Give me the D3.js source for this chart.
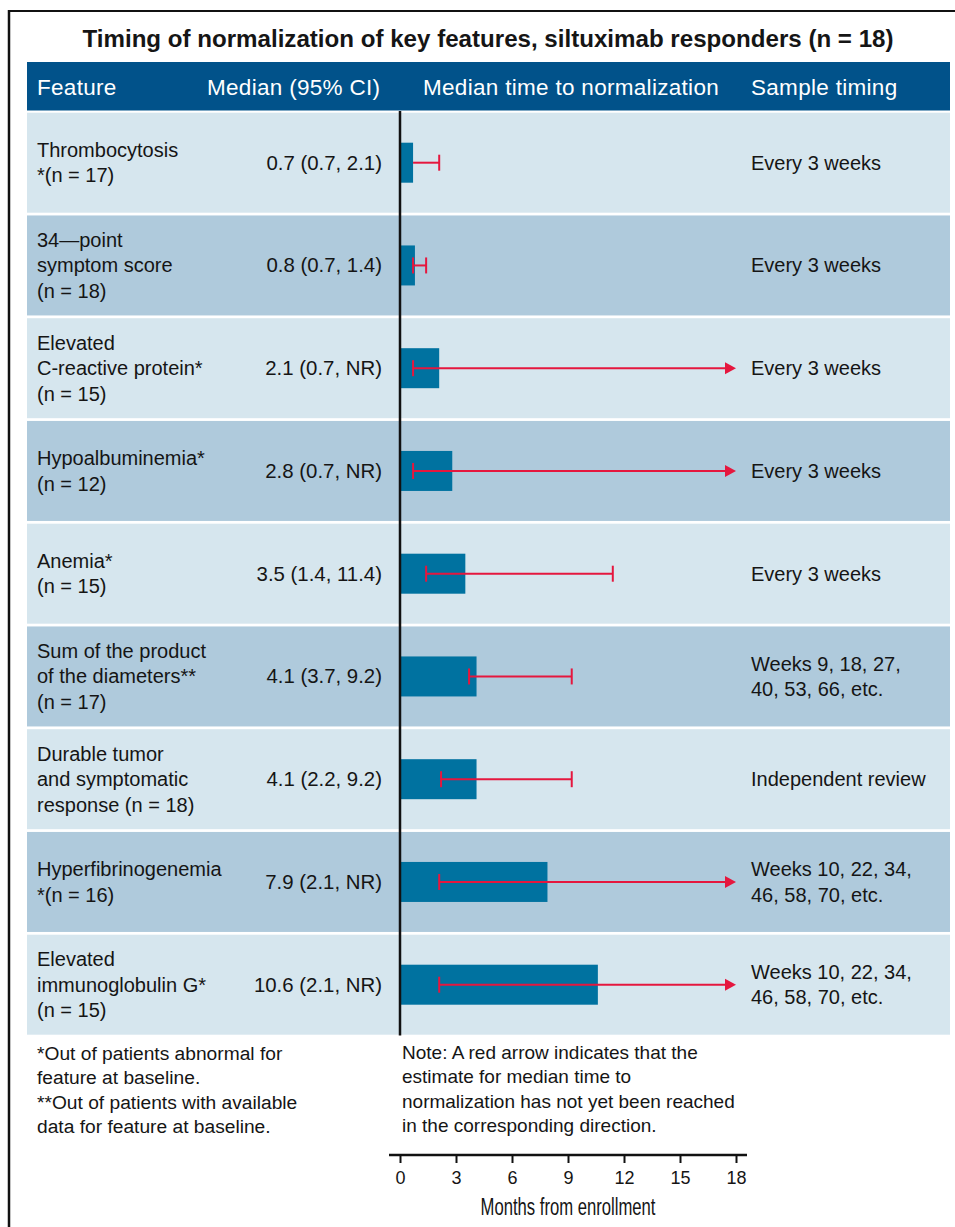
<!DOCTYPE html>
<html>
<head>
<meta charset="utf-8">
<script src="https://cdn.jsdelivr.net/npm/d3@7"></script>
<style>
  html, body { margin: 0; padding: 0; background: #fff; }
  svg { display: block; }
  text { font-family: "Liberation Sans", Arial, Helvetica, sans-serif; fill: #151515; }
</style>
</head>
<body>
<svg id="chart" width="955" height="1227"></svg>
<script>
// Feature names, one entry per row, split into display lines
const featureLines = [
  ["Thrombocytosis", "*(n = 17)"],
  ["34\u2014point", "symptom score", "(n = 18)"],
  ["Elevated", "C-reactive protein*", "(n = 15)"],
  ["Hypoalbuminemia*", "(n = 12)"],
  ["Anemia*", "(n = 15)"],
  ["Sum of the product", "of the diameters**", "(n = 17)"],
  ["Durable tumor", "and symptomatic", "response (n = 18)"],
  ["Hyperfibrinogenemia", "*(n = 16)"],
  ["Elevated", "immunoglobulin G*", "(n = 15)"]
];

// Median months to normalization and 95% CI (null upper = not reached)
const medians = [0.7, 0.8, 2.1, 2.8, 3.5, 4.1, 4.1, 7.9, 10.6];
const lowerCI = [0.7, 0.7, 0.7, 0.7, 1.4, 3.7, 2.2, 2.1, 2.1];
const upperCI = [2.1, 1.4, null, null, 11.4, 9.2, 9.2, null, null];

const sampleTiming = [
  ["Every 3 weeks"],
  ["Every 3 weeks"],
  ["Every 3 weeks"],
  ["Every 3 weeks"],
  ["Every 3 weeks"],
  ["Weeks 9, 18, 27,", "40, 53, 66, etc."],
  ["Independent review"],
  ["Weeks 10, 22, 34,", "46, 58, 70, etc."],
  ["Weeks 10, 22, 34,", "46, 58, 70, etc."]
];

const headers = ["Feature", "Median (95% CI)", "Median time to normalization", "Sample timing"];
const xTicks = [0, 3, 6, 9, 12, 15, 18];

const titleText = "Timing of normalization of key features, siltuximab responders (n = 18)";
const axisTitle = "Months from enrollment";
const footLeft = [
  "*Out of patients abnormal for",
  "feature at baseline.",
  "**Out of patients with available",
  "data for feature at baseline."
];
const footNote = [
  "Note: A red arrow indicates that the",
  "estimate for median time to",
  "normalization has not yet been reached",
  "in the corresponding direction."
];

const colors = {
  header: "#01528a",
  rowLight: "#d6e6ee",
  rowDark: "#afcadc",
  bar: "#0072a0",
  ci: "#e5173e"
};

const svg = d3.select("#chart");
const W = 955;

const tableLeft = 27, tableRight = 950;
const x = d3.scaleLinear().domain([0, 18]).range([400, 736]);
const y = d3.scaleBand().domain(d3.range(medians.length))
  .range([112.7, 1034.7]).paddingInner(0.0268);

const lineGap = 25.5;
const fmt = v => v == null ? "NR" : d3.format(".1f")(v);

// Outer frame (top and left rules)
svg.append("line").attr("x1", 8).attr("x2", W).attr("y1", 11).attr("y2", 11)
  .attr("stroke", "#111").attr("stroke-width", 2);
svg.append("line").attr("x1", 9).attr("x2", 9).attr("y1", 10).attr("y2", 1227)
  .attr("stroke", "#111").attr("stroke-width", 2.5);

// Title
svg.append("text")
  .attr("x", 488).attr("y", 47)
  .attr("text-anchor", "middle")
  .attr("font-size", 24).attr("font-weight", "bold")
  .attr("textLength", 811).attr("lengthAdjust", "spacingAndGlyphs")
  .text(titleText);

// Header band
svg.append("rect")
  .attr("x", tableLeft).attr("y", 62)
  .attr("width", tableRight - tableLeft).attr("height", 48.5)
  .attr("fill", colors.header);

const headerX = [37, 207, 423, 751];
svg.selectAll("text.hdr").data(headers).join("text")
  .attr("class", "hdr")
  .attr("x", (d, i) => headerX[i]).attr("y", 94.5)
  .attr("font-size", 22.5)
  .attr("letter-spacing", 0.3)
  .style("fill", "#fff")
  .text(d => d);

// Row backgrounds
const rows = svg.append("g").selectAll("g.row").data(medians.map((m, i) => i)).join("g")
  .attr("class", "row");

rows.append("rect")
  .attr("x", tableLeft).attr("width", tableRight - tableLeft)
  .attr("y", i => y(i)).attr("height", y.bandwidth())
  .attr("fill", i => i % 2 === 0 ? colors.rowLight : colors.rowDark);

function multiLine(sel, linesOf, xPos, anchor, size) {
  sel.each(function(i) {
    const lines = linesOf(i);
    const cy = y(i) + y.bandwidth() / 2;
    const g = d3.select(this);
    lines.forEach((t, k) => {
      g.append("text")
        .attr("x", xPos).attr("text-anchor", anchor)
        .attr("y", cy + (k - (lines.length - 1) / 2) * lineGap + 7)
        .attr("font-size", size)
        .text(t);
    });
  });
}

multiLine(rows, i => featureLines[i], 37, "start", 20);
multiLine(rows, i => [`${fmt(medians[i])} (${fmt(lowerCI[i])}, ${fmt(upperCI[i])})`], 382, "end", 20.4);
multiLine(rows, i => sampleTiming[i], 751, "start", 20);

// Bars
const barH = 40;
rows.append("rect")
  .attr("x", x(0)).attr("y", i => y(i) + y.bandwidth() / 2 - barH / 2)
  .attr("width", i => x(medians[i]) - x(0)).attr("height", barH)
  .attr("fill", colors.bar);

// Confidence intervals
const capH = 16, headLen = 11, headHalf = 6;
rows.each(function(i) {
  const g = d3.select(this);
  const cy = y(i) + y.bandwidth() / 2;
  const lo = lowerCI[i], hi = upperCI[i];
  const x0 = x(lo);
  const x1 = hi == null ? x(18) - headLen : x(hi);
  g.append("line").attr("x1", x0).attr("x2", x1).attr("y1", cy).attr("y2", cy)
    .attr("stroke", colors.ci).attr("stroke-width", 2);
  if (lo < medians[i]) {
    g.append("line").attr("x1", x0).attr("x2", x0)
      .attr("y1", cy - capH / 2).attr("y2", cy + capH / 2)
      .attr("stroke", colors.ci).attr("stroke-width", 2);
  }
  if (hi == null) {
    const tip = x(18);
    g.append("path")
      .attr("d", `M${tip},${cy} L${tip - headLen},${cy - headHalf} L${tip - headLen},${cy + headHalf} Z`)
      .attr("fill", colors.ci);
  } else {
    g.append("line").attr("x1", x1).attr("x2", x1)
      .attr("y1", cy - capH / 2).attr("y2", cy + capH / 2)
      .attr("stroke", colors.ci).attr("stroke-width", 2);
  }
});

// Zero reference line through the table
svg.append("line")
  .attr("x1", x(0)).attr("x2", x(0))
  .attr("y1", 111).attr("y2", 1035.5)
  .attr("stroke", "#111").attr("stroke-width", 2.5);

// Footnotes
svg.selectAll("text.fl").data(footLeft).join("text")
  .attr("class", "fl")
  .attr("x", 37).attr("y", (d, i) => 1060 + i * 24.3)
  .attr("font-size", 19.2).text(d => d);
svg.selectAll("text.fn").data(footNote).join("text")
  .attr("class", "fn")
  .attr("x", 402).attr("y", (d, i) => 1059 + i * 24.3)
  .attr("font-size", 19).text(d => d);

// Time axis
const axisY = 1155;
const axis = d3.axisBottom(x).tickValues(xTicks).tickSize(8).tickPadding(8).tickSizeOuter(0);
const ax = svg.append("g").attr("transform", `translate(0,${axisY})`).call(axis);
ax.select(".domain").remove();
ax.selectAll(".tick line").attr("stroke", "#111").attr("stroke-width", 2);
ax.selectAll(".tick text")
  .attr("font-family", "Liberation Sans, Arial, sans-serif")
  .attr("font-size", 18).style("fill", "#151515");
ax.insert("line", ":first-child")
  .attr("x1", x.range()[0] - 11).attr("x2", x.range()[1] + 11)
  .attr("y1", 0).attr("y2", 0)
  .attr("stroke", "#111").attr("stroke-width", 2.5);

svg.append("text")
  .attr("x", x(9)).attr("y", 1215)
  .attr("text-anchor", "middle")
  .attr("font-size", 23.5)
  .attr("textLength", 175).attr("lengthAdjust", "spacingAndGlyphs")
  .text(axisTitle);
</script>
</body>
</html>
